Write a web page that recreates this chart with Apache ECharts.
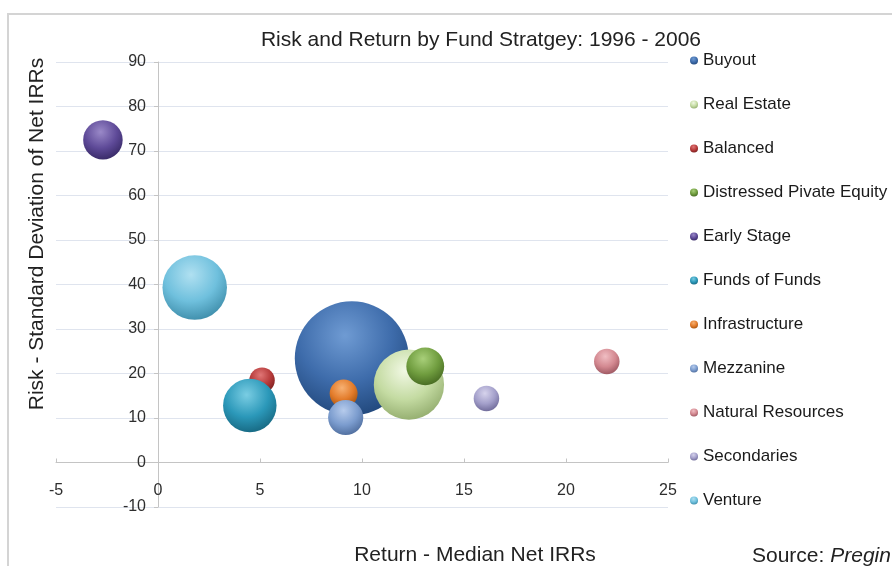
<!DOCTYPE html>
<html>
<head>
<meta charset="utf-8">
<script src="https://cdn.jsdelivr.net/npm/echarts@6/dist/echarts.min.js"></script>
<style>
  html, body { margin: 0; padding: 0; background: #fff; }
  #chart { width: 892px; height: 566px; }
</style>
</head>
<body>
<div id="chart"></div>
<script>
// fund strategies, in the order Excel draws them (later ones on top)
const strategies = ['Buyout', 'Real Estate', 'Balanced', 'Distressed Pivate Equity', 'Early Stage',
  'Funds of Funds', 'Infrastructure', 'Mezzanine', 'Natural Resources', 'Secondaries', 'Venture']
const medianReturn = [9.5, 12.3, 5.1, 13.1, -2.7, 4.5, 9.1, 9.2, 22.0, 16.1, 1.8]
const riskStdDev = [23.4, 17.5, 18.5, 21.6, 72.5, 12.8, 15.5, 10.1, 22.7, 14.4, 39.3]
const bubbleSize = [100, 38, 5, 11, 12, 22, 6, 9.5, 5, 5, 32]

const xTicks = { min: -5, max: 25, interval: 5 }
const yTicks = { min: -10, max: 90, interval: 10 }

// light / mid / dark shades for the sphere look
const shades = [
  ['#6f9bd3', '#3e6cab', '#1f4578'],
  ['#f1f8e4', '#c4dba2', '#8fa96a'],
  ['#e07676', '#b63a3a', '#741c1c'],
  ['#a8cf79', '#709d3f', '#43661f'],
  ['#9a89c8', '#5e4a98', '#342661'],
  ['#7acde3', '#2b98b9', '#15647d'],
  ['#f7b173', '#e37c2b', '#a0500d'],
  ['#b6cbec', '#7b9cce', '#4b6999'],
  ['#f0bec3', '#d38890', '#97525c'],
  ['#d6d3ec', '#a39fca', '#6b6695'],
  ['#b0e0f1', '#6fc0dd', '#3a89a6']
]

const font = 'Liberation Sans, Arial, sans-serif'

// plot box in pixels; axes are pulled in so they cross at (0, 0)
const plot = { left: 56, right: 668, top: 62, bottom: 507 }
const xZero = plot.left + (0 - xTicks.min) / (xTicks.max - xTicks.min) * (plot.right - plot.left)
const yZero = plot.bottom - (0 - yTicks.min) / (yTicks.max - yTicks.min) * (plot.bottom - plot.top)

function sphere(s) {
  return new echarts.graphic.RadialGradient(0.44, 0.3, 0.75, [
    { offset: 0, color: s[0] },
    { offset: 0.55, color: s[1] },
    { offset: 1, color: s[2] }
  ])
}

const series = strategies.map((name, i) => ({
  name,
  type: 'scatter',
  data: [[medianReturn[i], riskStdDev[i], bubbleSize[i]]],
  symbolSize: v => 11.4 * Math.sqrt(v[2]),
  itemStyle: { color: sphere(shades[i]), opacity: 1 },
  emphasis: { disabled: true }
}))

const chart = echarts.init(document.getElementById('chart'))
chart.setOption({
  animation: false,
  backgroundColor: '#fff',
  textStyle: { fontFamily: font },
  title: {
    text: 'Risk and Return by Fund Stratgey: 1996 - 2006',
    left: 476, top: 25, textAlign: 'center',
    textStyle: { fontFamily: font, fontSize: 21, fontWeight: 'normal', color: '#222' }
  },
  grid: { left: plot.left, right: 892 - plot.right, top: plot.top, bottom: 566 - plot.bottom },
  xAxis: {
    type: 'value', ...xTicks,
    offset: -(plot.bottom - yZero),
    axisLine: { onZero: false, lineStyle: { color: '#c4c4c4', width: 1 } },
    axisTick: { show: true, inside: true, length: 4, lineStyle: { color: '#c4c4c4' } },
    axisLabel: { color: '#2e2e2e', fontSize: 16, margin: 20, fontFamily: font },
    splitLine: { show: false }
  },
  yAxis: {
    type: 'value', ...yTicks,
    offset: -(xZero - plot.left),
    axisLine: { show: true, onZero: false, lineStyle: { color: '#c4c4c4', width: 1 } },
    axisTick: { show: true, length: 4, lineStyle: { color: '#c4c4c4' } },
    axisLabel: { color: '#2e2e2e', fontSize: 16, margin: 12, fontFamily: font },
    splitLine: { lineStyle: { color: '#dfe4ee', width: 1 } }
  },
  legend: {
    orient: 'vertical',
    left: 685, top: 47,
    itemWidth: 8, itemHeight: 8, itemGap: 27,
    icon: 'circle',
    data: strategies,
    textStyle: { fontFamily: font, fontSize: 17, color: '#1a1a1a', lineHeight: 17 }
  },
  graphic: [
    {
      type: 'rect', silent: true, z: -1,
      shape: { x: 8, y: 14, width: 900, height: 600 },
      style: { fill: 'none', stroke: '#d4d4d4', lineWidth: 2 }
    },
    {
      type: 'text', x: 37, y: 234, rotation: Math.PI / 2,
      style: {
        text: 'Risk - Standard Deviation of Net IRRs',
        font: '21px ' + font, fill: '#222',
        align: 'center', verticalAlign: 'middle', textAlign: 'center', textVerticalAlign: 'middle'
      }
    },
    {
      type: 'text', x: 475, y: 555,
      style: {
        text: 'Return - Median Net IRRs',
        font: '21px ' + font, fill: '#222',
        align: 'center', verticalAlign: 'middle', textAlign: 'center', textVerticalAlign: 'middle'
      }
    },
    {
      type: 'text', x: 752, y: 556,
      style: {
        text: '{a|Source: }{b|Pregin}',
        font: '21px ' + font, fill: '#222',
        verticalAlign: 'middle', textVerticalAlign: 'middle',
        rich: {
          a: { fontSize: 21, fontFamily: font, color: '#222' },
          b: { fontSize: 21, fontFamily: font, fontStyle: 'italic', color: '#222' }
        }
      }
    }
  ],
  series
})
</script>
</body>
</html>
